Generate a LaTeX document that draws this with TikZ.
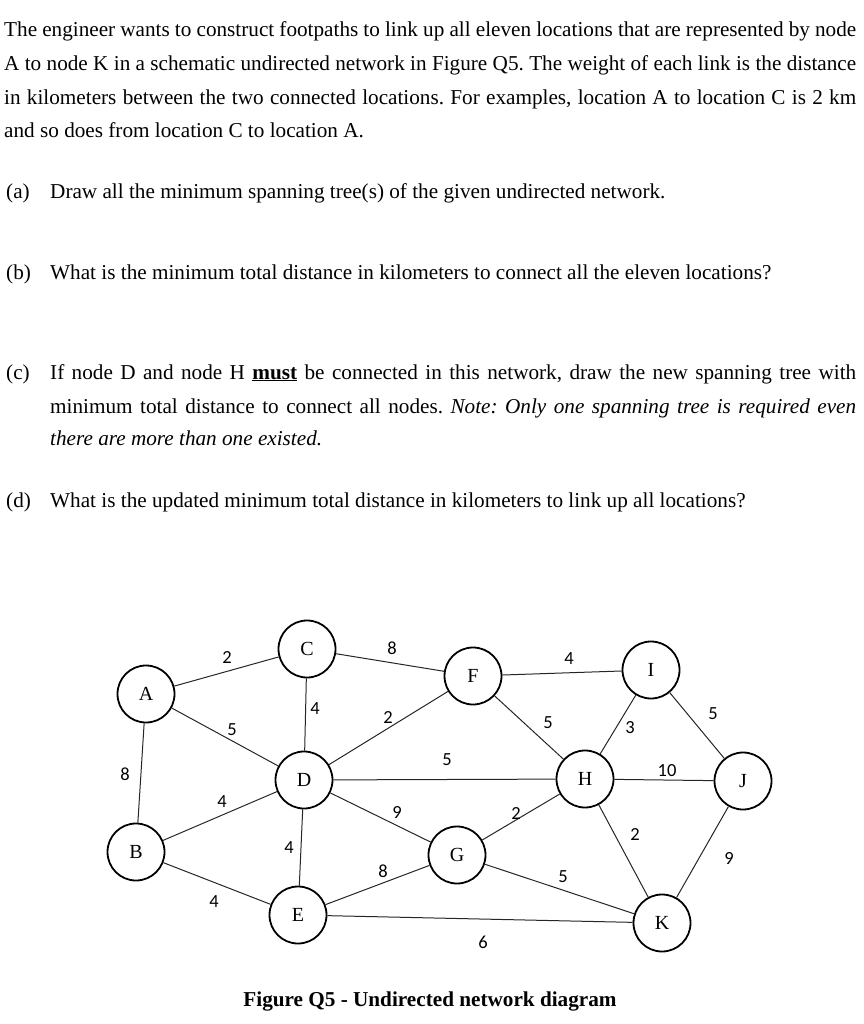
\documentclass[tikz,border=0pt]{standalone}
\usepackage{fontspec}
\setmainfont{Liberation Serif}
\newfontfamily\lblfont{Carlito}
\frenchspacing
\begin{document}
\begin{tikzpicture}[x=1pt,y=-1pt,
 txt/.style={anchor=base west, inner sep=0pt, font=\fontsize{21.2}{25}\selectfont},
 vtx/.style={circle, draw, line width=1.8pt, minimum size=57pt, inner sep=0pt, font=\fontsize{20}{23}\selectfont},
 link/.style={line width=1pt, draw=black!85},
 wt/.style={inner sep=0pt, font=\lblfont\fontsize{18.5}{21}\selectfont}]
\useasboundingbox (0,0) rectangle (863,1024);
% text
\node[txt] (t1) at (4,37) {\makebox[852pt][s]{The engineer wants to construct footpaths to link up all eleven locations that are represented by node}};
\node[txt] (t2) at (4,71) {\makebox[852pt][s]{A to node K in a schematic undirected network in Figure Q5. The weight of each link is the distance}};
\node[txt] (t3) at (4,105) {\makebox[852pt][s]{in kilometers between the two connected locations. For examples, location A to location C is 2 km}};
\node[txt] (t4) at (4,138) {and so does from location C to location A.};
\node[txt] (qa) at (6,199) {(a)};
\node[txt] (qat) at (50,199) {Draw all the minimum spanning tree(s) of the given undirected network.};
\node[txt] (qb) at (6,279) {(b)};
\node[txt] (qbt) at (50,279) {What is the minimum total distance in kilometers to connect all the eleven locations?};
\node[txt] (qc) at (6,379) {(c)};
\node[txt] (qct1) at (50,379) {\makebox[806pt][s]{If node D and node H \textbf{\underline{must}} be connected in this network, draw the new spanning tree with}};
\node[txt] (qct2) at (50,413) {\makebox[806pt][s]{minimum total distance to connect all nodes. \itshape Note: Only one spanning tree is required even}};
\node[txt] (qct3) at (50,445) {\itshape there are more than one existed.};
\node[txt] (qd) at (6,507) {(d)};
\node[txt] (qdt) at (50,507) {What is the updated minimum total distance in kilometers to link up all locations?};
% vertices
\node[vtx] (A) at (146,694) {A};
\node[vtx] (B) at (136,852) {B};
\node[vtx] (C) at (307,649) {C};
\node[vtx] (D) at (304,780) {D};
\node[vtx] (E) at (298,915) {E};
\node[vtx] (F) at (473,676) {F};
\node[vtx] (G) at (457,855) {G};
\node[vtx] (H) at (585,779) {H};
\node[vtx] (I) at (651,670) {I};
\node[vtx] (J) at (743,781) {J};
\node[vtx] (K) at (662,923) {K};
% links
\draw[link] (A) -- (C);
\draw[link] (A) -- (D);
\draw[link] (A) -- (B);
\draw[link] (C) -- (D);
\draw[link] (B) -- (D);
\draw[link] (C) -- (F);
\draw[link] (D) -- (F);
\draw[link] (D) -- (H);
\draw[link] (D) -- (G);
\draw[link] (F) -- (I);
\draw[link] (F) -- (H);
\draw[link] (H) -- (G);
\draw[link] (I) -- (H);
\draw[link] (I) -- (J);
\draw[link] (H) -- (J);
\draw[link] (H) -- (K);
\draw[link] (J) -- (K);
\draw[link] (D) -- (E);
\draw[link] (B) -- (E);
\draw[link] (E) -- (G);
\draw[link] (G) -- (K);
\draw[link] (E) -- (K);
% weights
\node[wt] (wAC) at (227,657) {2};
\node[wt] (wAD) at (232,730) {5};
\node[wt] (wAB) at (125,774) {8};
\node[wt] (wCD) at (315,709) {4};
\node[wt] (wBD) at (222,802) {4};
\node[wt] (wCF) at (392,648) {8};
\node[wt] (wDF) at (388,717) {2};
\node[wt] (wDH) at (447,760) {5};
\node[wt] (wDG) at (397,812) {9};
\node[wt] (wFI) at (569,659) {4};
\node[wt] (wFH) at (548,723) {5};
\node[wt] (wHG) at (516,813) {2};
\node[wt] (wIH) at (630,728) {3};
\node[wt] (wIJ) at (713,714) {5};
\node[wt] (wHJ) at (667,771) {10};
\node[wt] (wHK) at (635,834) {2};
\node[wt] (wJK) at (729,858) {9};
\node[wt] (wDE) at (289,848) {4};
\node[wt] (wBE) at (214,902) {4};
\node[wt] (wEG) at (383,871) {8};
\node[wt] (wGK) at (563,877) {5};
\node[wt] (wEK) at (483,942) {6};
% caption
\node[txt, font=\bfseries\fontsize{21.2}{25}\selectfont, anchor=base] (cap) at (430,1006) {Figure Q5 - Undirected network diagram};
\end{tikzpicture}
\end{document}
